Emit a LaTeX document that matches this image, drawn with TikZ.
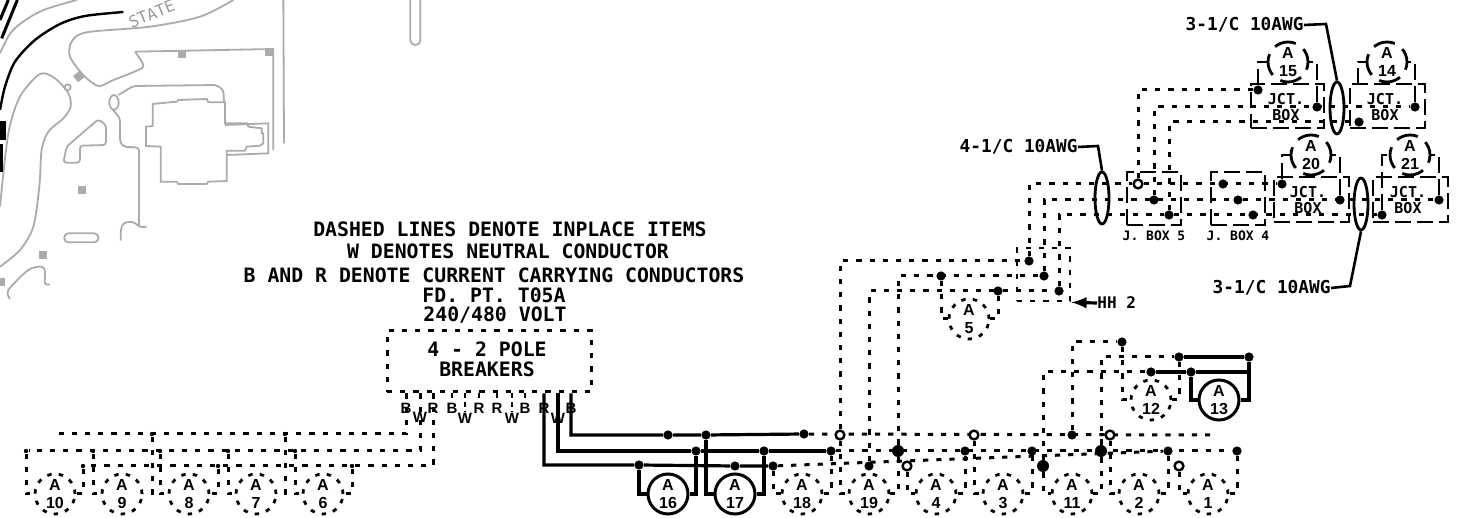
\documentclass[tikz,border=0pt]{standalone}
\usepackage{fontspec}
\setmainfont{Liberation Sans}
\newfontfamily\cadmono{DejaVu Sans Mono}[BoldFont={* Bold}]
\usetikzlibrary{shapes.geometric,backgrounds}
\tikzset{
  wire/.style={line width=1.6pt,black},
  dwire/.style={line width=1.5pt,black,dash pattern=on 2.6pt off 4pt},
  lwire/.style={line width=1.4pt,black,dash pattern=on 8pt off 3pt},
  lead/.style={line width=1.2pt,black},
  site/.style={line width=0.9pt,draw=black!33,rounded corners=1.5pt},
  sitefill/.style={fill=black!33,draw=none,minimum size=4pt,inner sep=0pt,rectangle},
  dot/.style={circle,fill=black,draw=none,minimum size=4.6pt,inner sep=0pt},
  bigdot/.style={circle,fill=black,draw=none,minimum size=6pt,inner sep=0pt},
  tiny/.style={circle,fill=black,draw=none,minimum size=2.2pt,inner sep=0pt},
  ring/.style={circle,fill=white,draw=black,line width=1.2pt,minimum size=4.4pt,inner sep=0pt},
  mtr/.style={circle,minimum size=20pt,inner sep=0pt,align=center,font=\fontsize{8}{9}\selectfont\bfseries},
  smtr/.style={mtr,draw,line width=1.5pt},
  dmtr/.style={mtr,draw,line width=1.4pt,dash pattern=on 2.2pt off 3.6pt},
  lmtr/.style={mtr,draw,line width=1.4pt,dash pattern=on 11pt off 4.7pt,dash phase=4pt},
  cadtxt/.style={font=\fontsize{9.9}{11}\selectfont\cadmono\bfseries,inner sep=0pt},
  cadlbl/.style={font=\fontsize{8.9}{10}\selectfont\cadmono\bfseries,inner sep=0pt},
  brk/.style={font=\fontsize{7.5}{8}\selectfont\bfseries,inner sep=0pt},
  jbox/.style={rectangle,draw,line width=1.4pt,dash pattern=on 8pt off 3pt,inner sep=0pt,align=center,
    font=\fontsize{7.5}{8}\selectfont\cadmono\bfseries},
  cable/.style={ellipse,draw,line width=1.4pt,minimum width=7pt,minimum height=26pt,inner sep=0pt},
  smalllbl/.style={font=\fontsize{6.5}{8}\selectfont\cadmono\bfseries,inner sep=0pt}
}
\begin{document}
\begin{tikzpicture}[x=0.5pt,y=-0.5pt]
\useasboundingbox (0,0) rectangle (1469,518);
% ---- site plan (coordinates at three times the scale)
\begin{scope}[x=0.166667pt,y=-0.166667pt]
\draw[site,smooth] plot coordinates {(0,160) (40,90) (120,35) (230,0)};
\draw[site,smooth,rounded corners=0pt] plot coordinates {(0,620) (25,400) (60,290) (120,222) (165,235) (205,280) (212,320) (190,355) (145,395) (125,450) (118,560) (100,680) (60,750) (0,800)};
\draw[site,smooth,rounded corners=0pt] plot coordinates {(700,0) (600,50) (450,80) (260,97) (215,125) (210,170) (250,225) (295,258) (340,240) (415,210) (430,195) (405,155)};
\draw[site,rounded corners=0pt] (405,155) -- (820,147) -- (820,450);
\draw[site,rounded corners=0pt] (850,0) -- (852,430);
\draw[site] (355,285) -- (400,258) -- (650,255) -- (670,270) -- (672,305);
\draw[site,rounded corners=0pt] (342,307) ellipse (14 and 22);
\draw[site] (338,328) -- (360,355) -- (360,425) -- (370,440) -- (417,443) -- (417,680);
\draw[site] (440,680) -- (420,682) -- (400,665) -- (370,668) -- (362,690) -- (362,722);
\draw[site,rounded corners=0pt] (458,312) -- (530,305) -- (535,300) -- (620,297) -- (625,307) -- (675,307) -- (675,370) -- (740,370) -- (745,380) -- (785,385) -- (785,400) -- (790,400) -- (790,430) -- (780,437) -- (740,440) -- (735,452) -- (680,452) -- (680,543) -- (625,545) -- (620,552) -- (535,552) -- (530,545) -- (482,545) -- (482,440) -- (438,438) -- (438,380) -- (458,378) -- cycle;
\draw[site,rounded corners=0pt] (675,375) -- (805,370) -- (805,460) -- (680,465);
\draw[site,rounded corners=1.5pt] (190,488) -- (200,440) -- (240,405) -- (295,358) -- (318,375) -- (318,435) -- (240,437) -- (240,488) -- cycle;
\draw[site,rounded corners=2pt] (193,700) rectangle (295,727);
\draw[site,smooth,rounded corners=0pt] plot coordinates {(30,897) (25,870) (85,810) (125,800) (135,815) (135,850) (150,853)};
\draw[site,rounded corners=2.4pt] (1231,0) -- (1231,135) -- (1261,135) -- (1261,0);
\foreach \x/\y in {545/162,807/155,246/570,130/766,2/847}
  \node[sitefill] at (\x,\y) {};
\node[sitefill,rotate=40] at (236,230) {};
\node[site,draw,rectangle,rotate=40,minimum size=3pt,inner sep=0pt] at (203,262) {};
\node[rotate=22,text=black!40,font=\fontsize{8}{9}\selectfont\cadmono] at (455,42) {STATE};
\draw[line width=1.2pt,smooth] plot coordinates {(370,36) (255,48) (180,72) (105,120) (45,185) (15,260) (0,330)};
\draw[line width=1.5pt] (52,0) -- (5,115);
\draw[line width=1.5pt] (25,0) -- (0,60);
\fill (0,362) rectangle (18,420);
\fill (0,432) rectangle (8,515);
\end{scope}
% ---- notes
\node[cadtxt] (n1) at (510,229) {DASHED LINES DENOTE INPLACE ITEMS};
\node[cadtxt] (n2) at (508,251) {W DENOTES NEUTRAL CONDUCTOR};
\node[cadtxt] (n3) at (494,275) {B AND R DENOTE CURRENT CARRYING CONDUCTORS};
\node[cadtxt] (n4) at (494,295) {FD. PT. T05A};
\node[cadtxt] (n5) at (495,315) {240/480 VOLT};
% ---- breaker panel
\node[rectangle,draw,line width=1.5pt,dash pattern=on 2.6pt off 4pt,minimum width=102pt,minimum height=30.5pt,inner sep=0pt] (box) at (489,361.5) {};
\node[cadtxt] (p1) at (487,349) {4 - 2 POLE};
\node[cadtxt] (p2) at (487,369) {BREAKERS};
\foreach \n/\t/\x/\y in {bB1/B/406/408,bW1/W/420/417,bR1/R/433/408,bB2/B/452/408,bW2/W/465/418,bR2/R/479/408,bR3/R/497/408,bW3/W/512/418,bB3/B/525/408,bR4/R/544/408,bW4/W/558/418,bB4/B/571/408}
  \node[brk] (\n) at (\x,\y) {\t};
% ---- junction dots
\foreach \n/\x/\y in {s1/668/435,s2/706/435,s3/804/434,s4/696/451,s5/764/451,s6/831/451,s7/639/465,s8/735/466,s9/773/466,
  t3/1072/435,m3/965/451,m4/1032/451,m6/1168/451,m7/1237/451,b1/869/466,
  u1/1029/261,u2/1044/276,u3/1059/291,u4/941/276,u5/998/291,
  v1/1122/342,v2/1179/357,v3/1249/357,v4/1151/372,v5/1191/372,
  j2/1154/200,j3/1169/215,k1/1223/184,k2/1238/200,k3/1253/215,
  c1/1258/90,c2/1317/107,c3/1415/107,c4/1359/122,c5/1282/184,c6/1340/200,c7/1382/215,c8/1439/200}
  \node[dot] (\n) at (\x,\y) {};
\foreach \n/\x/\y in {m2/898/451,b3/1043/466,m5/1101/451}
  \node[bigdot] (\n) at (\x,\y) {};
\foreach \n/\x/\y in {t1/840/435,t2/974/435,t4/1110/435,b2/907/466,b4/1179/466,j1/1138/184}
  \node[ring] (\n) at (\x,\y) {};
\foreach \n/\x/\y in {mA/26/451,mB/93/451,mC/160/451,mD/228/451,mE/295/451,tA/152/434,tB/285/434,bA/83/466,bC/218/466,bD/352/466}
  \node[tiny] (\n) at (\x,\y) {};
% ---- free ends and corners
\coordinate (tEnd) at (1210,435);
\coordinate (tStart) at (53,434);
\coordinate (x14a) at (1358,84);
% ---- meters
\foreach \n/\x/\t in {m10/55/10,m9/122/9,m8/189/8,m7a/256/7,m6a/323/6,m18/802/18,m19/869/19,m4a/936/4,m3a/1003/3,m11/1072/11,m2a/1139/2,m1/1208/1}
  \node[dmtr] (\n) at (\x,494) {A\\\t};
\node[smtr] (m16) at (668,494) {A\\16};
\node[smtr] (m17) at (735,494) {A\\17};
\node[dmtr] (m5a) at (969,319) {A\\5};
\node[dmtr] (m12) at (1151,400) {A\\12};
\node[smtr] (m13) at (1219,400) {A\\13};
\node[lmtr] (m15) at (1288,62) {A\\15};
\node[lmtr] (m14) at (1387,62) {A\\14};
\node[lmtr] (m20) at (1311,155) {A\\20};
\node[lmtr] (m21) at (1410,155) {A\\21};
% ---- junction boxes
\node[jbox,minimum width=36.5pt,minimum height=22pt] (x15) at (1287.5,106) {};
\node[jbox,minimum width=37.5pt,minimum height=22pt] (x14) at (1387.5,106) {};
\node[jbox,minimum width=37.5pt,minimum height=22.5pt] (x20) at (1311.5,199.5) {};
\node[jbox,minimum width=37.5pt,minimum height=22.5pt] (x21) at (1410.5,199.5) {};
\foreach \x/\y in {1286/107,1385/107,1308/200,1408/200}
  \node[font=\fontsize{7.5}{8}\selectfont\cadmono\bfseries,align=center,inner sep=0pt] at (\x,\y) {JCT.\\BOX};
\node[jbox,minimum width=27pt,minimum height=26.5pt] (jb5) at (1154,198.5) {};
\node[jbox,minimum width=27pt,minimum height=26.5pt] (jb4) at (1238,198.5) {};
\node[smalllbl] (l5) at (1154,236) {J. BOX 5};
\node[smalllbl] (l4) at (1238,236) {J. BOX 4};
\node[rectangle,draw,line width=1.4pt,dash pattern=on 2.6pt off 4pt,minimum width=26.5pt,minimum height=26.5pt,inner sep=0pt] (hh) at (1043.5,274.5) {};
\node[font=\fontsize{8}{9}\selectfont\cadmono\bfseries,inner sep=0pt,anchor=west] (hhl) at (1097,303) {HH 2};
% ---- cables and their labels
\node[cable] (e4) at (1102,198) {};
\node[cable] (e3a) at (1337,108) {};
\node[cable] (e3b) at (1361,204) {};
\node[cadlbl,anchor=east] (c4l) at (1078,147) {4-1/C 10AWG};
\node[cadlbl,anchor=east] (c3al) at (1304,25) {3-1/C 10AWG};
\node[cadlbl,anchor=east] (c3bl) at (1331,288) {3-1/C 10AWG};
\coordinate (c4k) at (1098,146);
\coordinate (c3ak) at (1326,24);
\coordinate (c3bk) at (1350,286);
\draw[lead,line width=1.3pt] (c4l.east) -- (c4k) -- (e4.north);
\draw[lead,line width=1.3pt] (c3al.east) -- (c3ak) -- (e3a.north);
\draw[lead,line width=1.3pt] (c3bl.east) -- (c3bk) -- (e3b.south);
\draw[-latex,line width=1.6pt] (hhl.west) -- (hh.south east);
% ---- wires (under the dots)
\begin{scope}[on background layer]
\draw[wire] (box.south -| bB4) |- (s1) -- (s2) -- (s3);
\draw[wire] (box.south -| bW4) |- (s4) -- (s5) -- (s6);
\draw[wire] (box.south -| bR4) |- (s7) -- (s8) -- (s9);
\draw[wire] (s7) |- (m16.west);
\draw[wire] (s4) |- (m16.east);
\draw[wire] (s2) |- (m17.west);
\draw[wire] (s5) |- (m17.east);
\draw[wire] (v2) -- (v3) |- (m13.east);
\draw[wire] (v4) -- (v5) |- (m13.west);
\draw[wire] (v5) -- (v3 |- v5);
\draw[dwire] (s3) -- (tEnd);
\draw[dwire] (s6) -- (m7);
\draw[dwire] (s9) -- (m6);
\draw[dwire] (s9) |- (m18.west);
\draw[dwire] (s6) |- (m18.east);
\draw[dwire] (t1) |- (m19.west);
\draw[dwire] (m2) |- (m19.east);
\draw[dwire] (b2) |- (m4a.west);
\draw[dwire] (m3) |- (m4a.east);
\draw[dwire] (t2) |- (m3a.west);
\draw[dwire] (m4) |- (m3a.east);
\draw[dwire] (b3) |- (m11.west);
\draw[dwire] (m5) |- (m11.east);
\draw[dwire] (t4) |- (m2a.west);
\draw[dwire] (m6) |- (m2a.east);
\draw[dwire] (b4) |- (m1.west);
\draw[dwire] (m7) |- (m1.east);
\draw[dwire] (t1) |- (u1);
\draw[dwire] (m2) |- (u2);
\draw[dwire] (b1) |- (u3);
\draw[dwire] (u4) |- (m5a.west);
\draw[dwire] (u5) |- (m5a.east);
\draw[dwire] (u1) |- (j1);
\draw[dwire] (u2) |- (k2);
\draw[dwire] (u3) |- (j3);
\draw[dwire] (j1) -- (c5);
\draw[dwire] (k2) -- (c8);
\draw[dwire] (j3) -- (c7);
\draw[dwire] (j1) |- (c1);
\draw[dwire] (j2) |- (c3);
\draw[dwire] (j3) |- (c4);
\draw[dwire] (t3) |- (v1);
\draw[dwire] (m5) |- (v2);
\draw[dwire] (b3) |- (v4);
\draw[dwire] (v1) |- (m12.west);
\draw[dwire] (v2) |- (m12.east);
\draw[lwire] (c1) |- (m15.west);
\draw[lwire] (c2) |- (m15.east);
\draw[lwire] (x14a) |- (m14.west);
\draw[lwire] (c3) |- (m14.east);
\draw[lwire] (c5) |- (m20.west);
\draw[lwire] (c6) |- (m20.east);
\draw[lwire] (c7) |- (m21.west);
\draw[lwire] (c8) |- (m21.east);
% left-hand group of breakers
\draw[dwire] (box.south -| bB1) |- (tStart);
\draw[dwire] (box.south -| bW1) |- (mA);
\draw[dwire] (box.south -| bR1) |- (bA);
\draw[dwire] (mA) |- (m10.west);
\draw[dwire] (bA) |- (m10.east);
\draw[dwire] (mB) |- (m9.west);
\draw[dwire] (tA) |- (m9.east);
\draw[dwire] (mC) |- (m8.west);
\draw[dwire] (bC) |- (m8.east);
\draw[dwire] (mD) |- (m7a.west);
\draw[dwire] (tB) |- (m7a.east);
\draw[dwire] (mE) |- (m6a.west);
\draw[dwire] (bD) |- (m6a.east);
\foreach \n in {bB2,bW2,bR2,bR3,bW3,bB3}
  \draw[line width=1.2pt,dash pattern=on 2.5pt off 2pt] (box.south -| \n) -- (\n.north);
\end{scope}
\end{tikzpicture}
\end{document}
